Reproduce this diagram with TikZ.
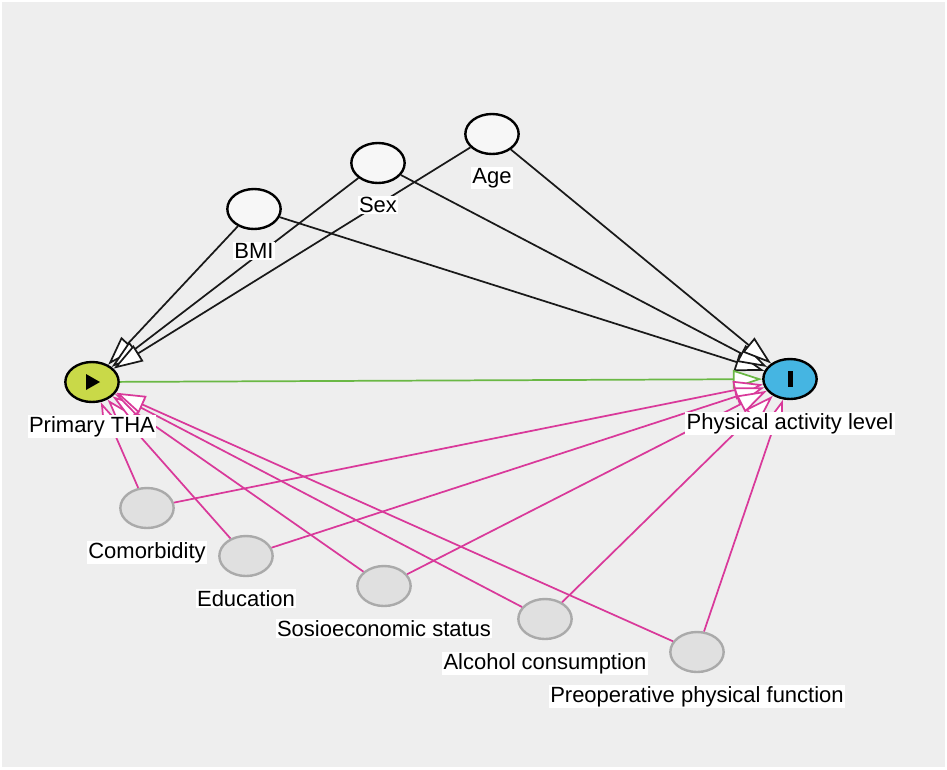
\documentclass[tikz,border=0pt]{standalone}
\usepackage{fontspec}
\setmainfont{Liberation Sans}
\usepackage{tikz}
\usetikzlibrary{arrows.meta,positioning,shapes.geometric}
\definecolor{dagback}    {RGB}{238,238,238}
\definecolor{expgreen}   {RGB}{201,217, 72}
\definecolor{outblue}    {RGB}{ 69,181,226}
\definecolor{covgray}    {RGB}{224,224,224}
\definecolor{covedge}    {RGB}{170,170,170}
\definecolor{causalgreen}{RGB}{106,184, 69}
\definecolor{biaspink}   {RGB}{217, 57,154}

\begin{document}
\begin{tikzpicture}[
  x=0.75pt, y=-0.75pt,
  every node/.style={font=\fontsize{16.5}{19}\selectfont},
  var/.style={ellipse, draw=black, line width=1.8pt, inner sep=0pt, minimum width=40pt, minimum height=30pt},
  adjvar/.style={var, fill=white!97!black},
  covar/.style={var, draw=covedge, fill=covgray},
  lbl/.style={fill=white, inner sep=1pt, below=8.5pt of #1},
  arrow/.style={-{Triangle[fill=white, length=22pt, width=14pt]}, line width=1.3pt, #1},
  arrow/.default=black!90
]
  \useasboundingbox[fill=dagback] (0,0) rectangle (947,769);
  \draw[white, line width=1.5pt] (1,1) rectangle (946,768);

  % Nodes
  \node (tha) [var, fill=expgreen] at (92,382) {};
  \node (pal) [var, fill=outblue] at (790,379) {};
  \node (bmi) [adjvar] at (254,209) {};
  \node (sex) [adjvar] at (378,163) {};
  \node (age) [adjvar] at (492,134) {};
  \node (comorb) [covar] at (147,508) {};
  \node (edu) [covar] at (246,556) {};
  \node (ses) [covar] at (384,586) {};
  \node (alcohol) [covar] at (545,619) {};
  \node (preop) [covar] at (697,652) {};

  % Symbols
  \fill (tha.center) ++(-6,-8) -- ++(14,8) -- ++(-14,8) -- cycle;
  \fill (pal.center) ++(-2.5,-8) rectangle ++(5,16);

  % Paths
  \foreach \v in {bmi,sex,age}{
    \draw [arrow] (\v) -- (tha);
    \draw [arrow] (\v) -- (pal);
  }
  \draw [arrow=causalgreen] (tha) -- (pal);
  \foreach \v in {comorb,edu,ses,alcohol,preop}{
    \draw [arrow=biaspink] (\v) -- (tha);
    \draw [arrow=biaspink] (\v) -- (pal);
  }

  % Labels
  \node (thaL) [lbl=tha] {Primary THA};
  \node (palL) [lbl=pal] {Physical activity level};
  \node (bmiL) [lbl=bmi] {BMI};
  \node (sexL) [lbl=sex] {Sex};
  \node (ageL) [lbl=age] {Age};
  \node (comorbL) [lbl=comorb] {Comorbidity};
  \node (eduL) [lbl=edu] {Education};
  \node (sesL) [lbl=ses] {Sosioeconomic status};
  \node (alcoholL) [lbl=alcohol] {Alcohol consumption};
  \node (preopL) [lbl=preop] {Preoperative physical function};
\end{tikzpicture}
\end{document}
